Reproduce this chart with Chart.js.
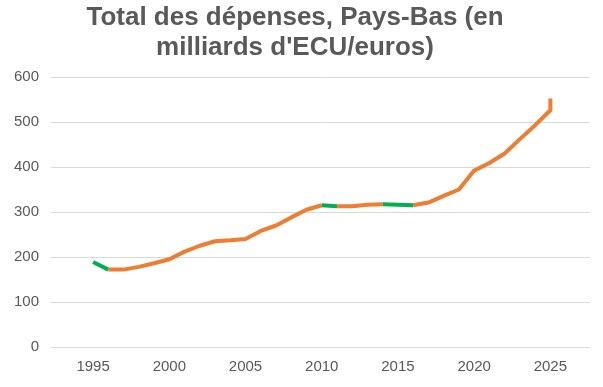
<!DOCTYPE html>
<html>
<head>
<meta charset="utf-8">
<script src="https://cdn.jsdelivr.net/npm/chart.js@4"></script>
<style>
  body { margin: 0; background: #fff; }
  #chart { display: block; }
</style>
</head>
<body>
<canvas id="chart" width="603" height="387"></canvas>
<script>
// Values
const years = [1995, 1996, 1997, 1998, 1999, 2000, 2001, 2002, 2003, 2004, 2005,
  2006, 2007, 2008, 2009, 2010, 2011, 2012, 2013, 2014, 2015, 2016,
  2017, 2018, 2019, 2020, 2021, 2022, 2023, 2024, 2025, 2025];
const spending = [189, 172, 172, 178, 186, 195, 212, 225, 235, 237, 240,
  258, 270, 288, 305, 315, 313, 313, 316, 317, 316, 315,
  321, 336, 350, 392, 409, 430, 462, 493, 526, 552];
const yearTicks = [1995, 2000, 2005, 2010, 2015, 2020, 2025];
const valueTicks = [0, 100, 200, 300, 400, 500, 600];

const titleLines = ['Total des dépenses, Pays-Bas (en', "milliards d'ECU/euros)"];

const orange = '#ED7D31';
const green = '#00B050';
const textGray = '#595959';
const gridGray = '#D9D9D9';

const points = years.map((y, i) => ({ x: y, y: spending[i] }));

const ctx = document.getElementById('chart').getContext('2d');
new Chart(ctx, {
  type: 'line',
  data: {
    datasets: [{
      data: points,
      borderColor: orange,
      borderWidth: 4,
      borderJoinStyle: 'round',
      pointRadius: 0,
      tension: 0,
      fill: false,
      segment: {
        // green where spending went down
        borderColor: c => c.p1.parsed.y < c.p0.parsed.y ? green : orange
      }
    }]
  },
  options: {
    responsive: false,
    animation: false,
    layout: { padding: { left: 0, right: 13, top: 0, bottom: 0 } },
    plugins: {
      legend: { display: false },
      tooltip: { enabled: false },
      title: {
        display: true,
        text: titleLines,
        color: textGray,
        font: { family: 'Liberation Sans, Arial, sans-serif', size: 26, weight: 'bold', lineHeight: '30px' },
        padding: { top: 3, bottom: 14 }
      }
    },
    scales: {
      x: {
        type: 'linear',
        min: 1992.5,
        max: 2027.6,
        afterBuildTicks: axis => { axis.ticks = yearTicks.map(v => ({ value: v })); },
        afterFit: axis => { axis.height = 40; },
        grid: { display: false },
        border: { display: false },
        ticks: {
          color: textGray,
          font: { family: 'Liberation Sans, Arial, sans-serif', size: 15 },
          padding: 3,
          maxRotation: 0,
          callback: v => String(v)
        }
      },
      y: {
        min: 0,
        max: 600,
        afterBuildTicks: axis => { axis.ticks = valueTicks.map(v => ({ value: v })); },
        afterFit: axis => { axis.width = 55; },
        grid: { color: gridGray, lineWidth: 1, tickLength: 4, drawTicks: true },
        border: { display: false },
        ticks: {
          color: textGray,
          font: { family: 'Liberation Sans, Arial, sans-serif', size: 15 },
          padding: 12
        }
      }
    }
  }
});
</script>
</body>
</html>
